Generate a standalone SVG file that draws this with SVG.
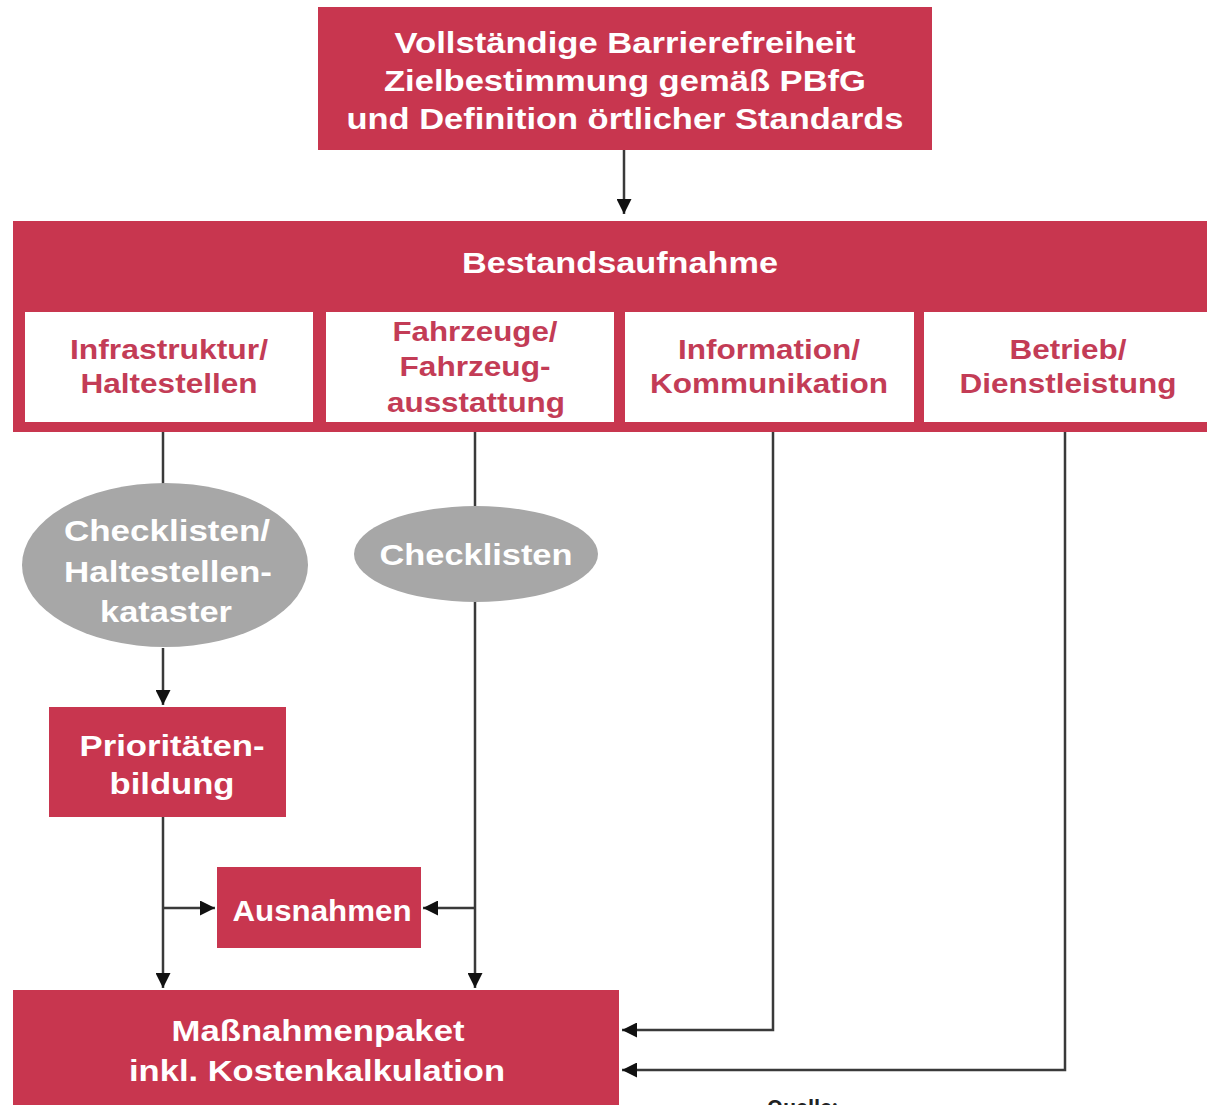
<svg xmlns="http://www.w3.org/2000/svg" width="1207" height="1105" viewBox="0 0 1207 1105">
<style>
.red{fill:#c8364f}
.wbox{fill:#ffffff}
.ell{fill:#a7a7a7}
.wt{font-family:"Liberation Sans",Arial,sans-serif;font-weight:bold;fill:#ffffff;text-anchor:middle}
.rt{font-family:"Liberation Sans",Arial,sans-serif;font-weight:bold;fill:#c33c56;text-anchor:middle}
.ln{fill:none;stroke:#3a3a3a;stroke-width:2.5}
.src{font-family:"Open Sans","Liberation Sans",sans-serif;font-size:20px;fill:#222}
</style>
<defs>
<marker id="ah" viewBox="0 0 10 10" refX="10" refY="5" markerWidth="6" markerHeight="6" orient="auto" markerUnits="strokeWidth">
<path d="M0,0 L10,5 L0,10 z" fill="#111"/>
</marker>
</defs>
<rect width="1207" height="1105" fill="#ffffff"/>

<g id="connectors">
<path class="ln" d="M624,150 V214" marker-end="url(#ah)"/>
<path class="ln" d="M163,432 V485"/>
<path class="ln" d="M163,648 V705" marker-end="url(#ah)"/>
<path class="ln" d="M163,817 V988" marker-end="url(#ah)"/>
<path class="ln" d="M163,908 H215" marker-end="url(#ah)"/>
<path class="ln" d="M475,432 V506"/>
<path class="ln" d="M475,602 V988" marker-end="url(#ah)"/>
<path class="ln" d="M475,908 H423" marker-end="url(#ah)"/>
<path class="ln" d="M773,432 V1030 H622" marker-end="url(#ah)"/>
<path class="ln" d="M1065,432 V1070 H622" marker-end="url(#ah)"/>
</g>

<g id="ziel">
<rect class="red" x="318" y="7" width="614" height="143"/>
<text class="wt" font-size="30" x="625" y="53" textLength="461" lengthAdjust="spacingAndGlyphs">Vollständige Barrierefreiheit</text>
<text class="wt" font-size="30" x="625" y="91" textLength="482" lengthAdjust="spacingAndGlyphs">Zielbestimmung gemäß PBfG</text>
<text class="wt" font-size="30" x="625" y="129" textLength="557" lengthAdjust="spacingAndGlyphs">und Definition örtlicher Standards</text>
</g>

<g id="bestand">
<rect class="red" x="13" y="221" width="1194" height="211"/>
<text class="wt" font-size="30" x="620" y="273" textLength="316" lengthAdjust="spacingAndGlyphs">Bestandsaufnahme</text>
</g>

<g id="infrastruktur">
<rect class="wbox" x="25" y="312" width="288" height="110"/>
<text class="rt" font-size="28" x="169" y="359" textLength="198" lengthAdjust="spacingAndGlyphs">Infrastruktur/</text>
<text class="rt" font-size="28" x="169" y="393" textLength="177" lengthAdjust="spacingAndGlyphs">Haltestellen</text>
</g>

<g id="fahrzeuge">
<rect class="wbox" x="326" y="312" width="288" height="110"/>
<text class="rt" font-size="28" x="475" y="341" textLength="165" lengthAdjust="spacingAndGlyphs">Fahrzeuge/</text>
<text class="rt" font-size="28" x="475" y="376" textLength="151" lengthAdjust="spacingAndGlyphs">Fahrzeug-</text>
<text class="rt" font-size="28" x="476" y="412" textLength="178" lengthAdjust="spacingAndGlyphs">ausstattung</text>
</g>

<g id="information">
<rect class="wbox" x="625" y="312" width="289" height="110"/>
<text class="rt" font-size="28" x="769" y="359" textLength="182" lengthAdjust="spacingAndGlyphs">Information/</text>
<text class="rt" font-size="28" x="769" y="393" textLength="238" lengthAdjust="spacingAndGlyphs">Kommunikation</text>
</g>

<g id="betrieb">
<rect class="wbox" x="924" y="312" width="283" height="110"/>
<text class="rt" font-size="28" x="1068" y="359" textLength="117" lengthAdjust="spacingAndGlyphs">Betrieb/</text>
<text class="rt" font-size="28" x="1068" y="393" textLength="217" lengthAdjust="spacingAndGlyphs">Dienstleistung</text>
</g>

<g id="checklisten-kataster">
<ellipse class="ell" cx="165" cy="565" rx="143" ry="82"/>
<text class="wt" font-size="30" x="167" y="541" textLength="206" lengthAdjust="spacingAndGlyphs">Checklisten/</text>
<text class="wt" font-size="30" x="168" y="582" textLength="208" lengthAdjust="spacingAndGlyphs">Haltestellen-</text>
<text class="wt" font-size="30" x="166" y="622" textLength="132" lengthAdjust="spacingAndGlyphs">kataster</text>
</g>

<g id="checklisten">
<ellipse class="ell" cx="476" cy="554" rx="122" ry="48"/>
<text class="wt" font-size="30" x="476" y="565" textLength="193" lengthAdjust="spacingAndGlyphs">Checklisten</text>
</g>

<g id="prioritaeten">
<rect class="red" x="49" y="707" width="237" height="110"/>
<text class="wt" font-size="30" x="172" y="756" textLength="185" lengthAdjust="spacingAndGlyphs">Prioritäten-</text>
<text class="wt" font-size="30" x="172" y="794" textLength="125" lengthAdjust="spacingAndGlyphs">bildung</text>
</g>

<g id="ausnahmen">
<rect class="red" x="217" y="867" width="204" height="81"/>
<text class="wt" font-size="30" x="322" y="921" textLength="179" lengthAdjust="spacingAndGlyphs">Ausnahmen</text>
</g>

<g id="massnahmen">
<rect class="red" x="13" y="990" width="606" height="115"/>
<text class="wt" font-size="30" x="318" y="1041" textLength="293" lengthAdjust="spacingAndGlyphs">Maßnahmenpaket</text>
<text class="wt" font-size="30" x="317" y="1081" textLength="376" lengthAdjust="spacingAndGlyphs">inkl. Kostenkalkulation</text>
</g>

<text class="src" x="767" y="1114" font-weight="bold">Quelle:</text>
</svg>
